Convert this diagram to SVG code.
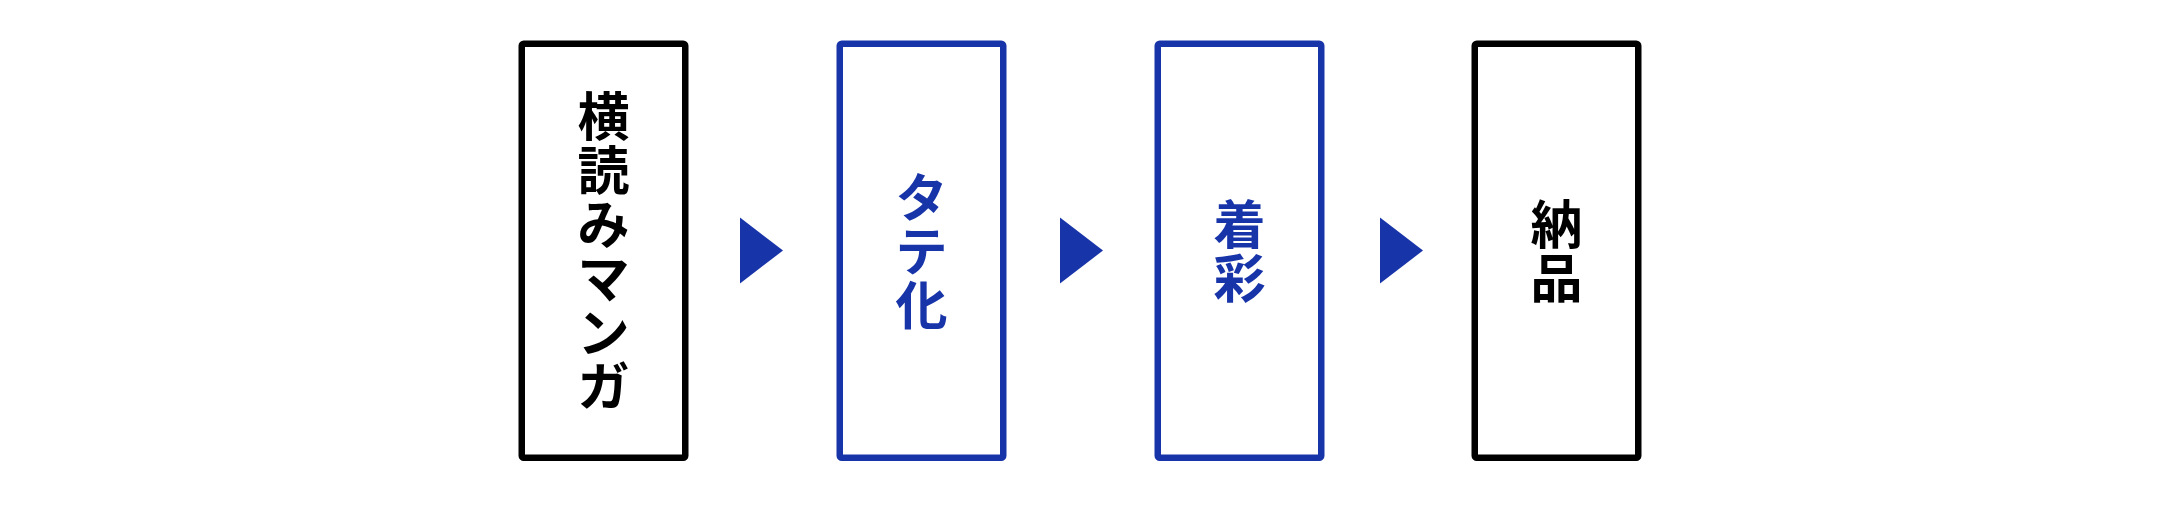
<svg xmlns="http://www.w3.org/2000/svg" width="2168" height="509" viewBox="0 0 2168 509">
<style>
.box{fill:#fff;stroke-width:6.5;stroke-linejoin:round}
.k{stroke:#000}
.b{stroke:#1834A9}
.t{font-family:"Noto Sans CJK JP","Noto Sans",sans-serif;font-size:52px;font-weight:700;text-anchor:middle}
.tk{fill:#000}
.tb{fill:#1834A9}
.arr{fill:#1834A9}
</style>
<rect width="2168" height="509" fill="#fff"/>
<g id="node-yokoyomi">
<rect class="box k" x="521.75" y="43.75" width="163.5" height="414" rx="2"/>
<text class="t tk"><tspan x="603.5" y="136">横</tspan><tspan x="603.5" y="190">読</tspan><tspan x="603.5" y="244">み</tspan><tspan x="603.5" y="298">マ</tspan><tspan x="603.5" y="352">ン</tspan><tspan x="603.5" y="406">ガ</tspan></text>
</g>
<g id="node-tateka">
<rect class="box b" x="839.75" y="43.75" width="163.5" height="414" rx="2"/>
<text class="t tb"><tspan x="921.5" y="217">タ</tspan><tspan x="921.5" y="271">テ</tspan><tspan x="921.5" y="325">化</tspan></text>
</g>
<g id="node-chakusai">
<rect class="box b" x="1157.75" y="43.75" width="163.5" height="414" rx="2"/>
<text class="t tb"><tspan x="1239.5" y="244">着</tspan><tspan x="1239.5" y="298">彩</tspan></text>
</g>
<g id="node-nouhin">
<rect class="box k" x="1474.75" y="43.75" width="163.5" height="414" rx="2"/>
<text class="t tk"><tspan x="1556.5" y="244">納</tspan><tspan x="1556.5" y="298">品</tspan></text>
</g>
<g id="connectors">
<polygon class="arr" points="740,217.5 783,250.5 740,283.5"/>
<polygon class="arr" points="1060,217.5 1103,250.5 1060,283.5"/>
<polygon class="arr" points="1380,217.5 1423,250.5 1380,283.5"/>
</g>
</svg>
